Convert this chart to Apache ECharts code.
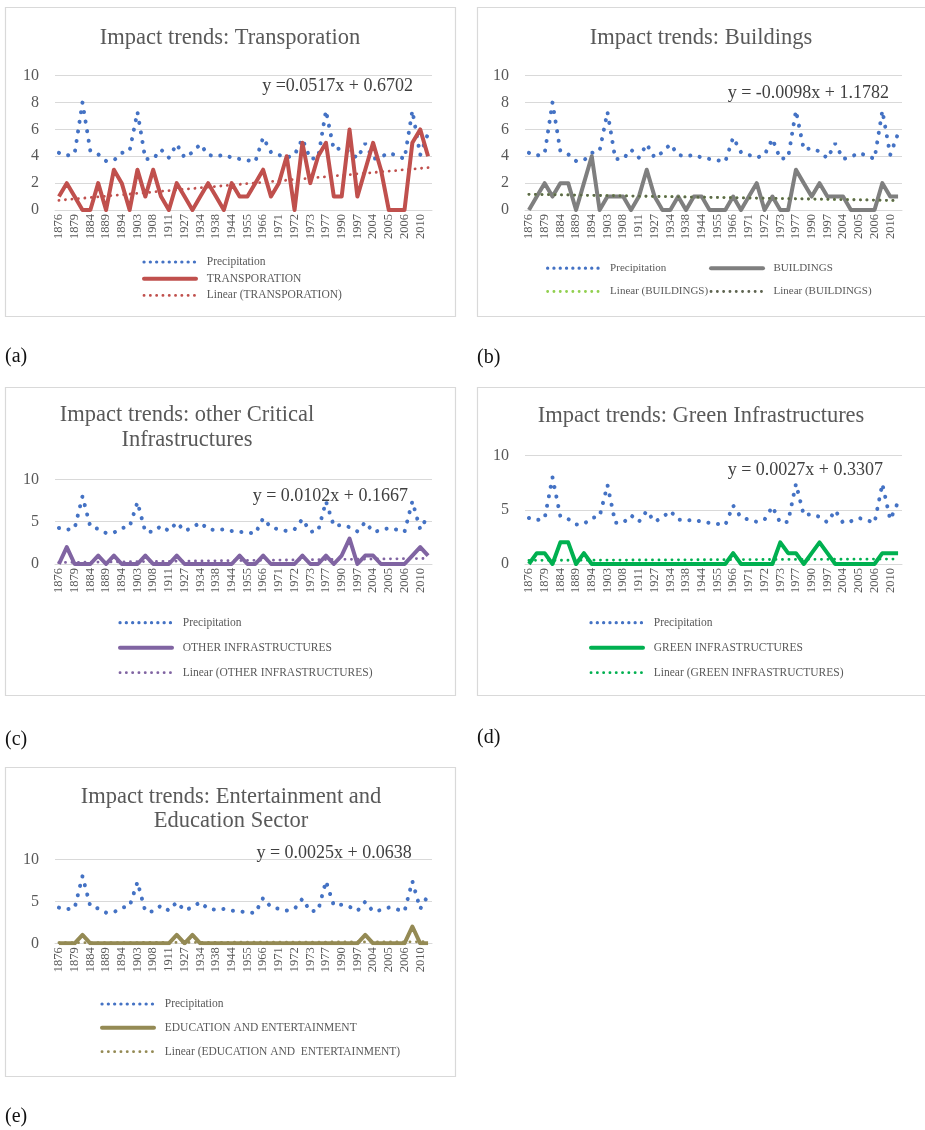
<!DOCTYPE html>
<html>
<head>
<meta charset="utf-8">
<title>Impact trends</title>
<script src="https://cdn.jsdelivr.net/npm/echarts@6/dist/echarts.min.js"></script>
<style>
  html, body { margin: 0; padding: 0; background: #fff; }
  #chart { width: 925px; height: 1130px; }
</style>
</head>
<body>
<div id="chart"></div>
<script>
  // event years on the x axis (every other one is labelled)
  const years = ['1876', '1878', '1879', '1882', '1884', '1887', '1889', '1891', '1894', '1900',
    '1903', '1905', '1908', '1910', '1911', '1915', '1927', '1930', '1934', '1936',
    '1938', '1941', '1944', '1950', '1955', '1960', '1966', '1968', '1971', '1971',
    '1972', '1972', '1973', '1976', '1977', '1983', '1990', '1993', '1997', '2001',
    '2004', '2005', '2005', '2006', '2006', '2008', '2010', '2012']

  const precipitation = [4.25, 4.05, 4.2, 8.0, 4.4, 4.15, 3.65, 3.7, 4.25, 4.4,
    7.3, 3.8, 3.8, 4.5, 3.9, 4.9, 3.9, 4.3, 4.9, 4.1,
    4.0, 4.1, 3.9, 3.8, 3.7, 3.6, 5.4, 4.3, 4.1, 3.9,
    4.1, 5.3, 3.8, 3.9, 7.4, 4.5, 4.6, 4.35, 3.85, 4.95,
    3.8, 3.95, 4.25, 4.05, 3.8, 7.4, 4.1, 5.7]

  const transportation = [1, 2, 1, 0, 0, 2, 0, 3, 2, 0, 3, 1, 3, 1, 0, 2, 1, 0, 1, 2, 1, 0, 2, 1,
    1, 2, 3, 1, 2, 4, 0, 5, 2, 4, 5, 1, 1, 6, 1, 3, 5, 3, 0, 0, 0, 5, 6, 4]
  const buildings = [0, 1, 2, 1, 2, 2, 0, 2, 4, 0, 1, 1, 1, 0, 1, 3, 1, 0, 0, 1, 0, 1, 1, 0,
    0, 0, 1, 0, 1, 2, 0, 1, 0, 0, 3, 2, 1, 2, 1, 1, 1, 0, 0, 0, 0, 2, 1, 1]
  const otherInfra = [0, 2, 0, 0, 0, 1, 0, 1, 0, 0, 0, 1, 0, 0, 0, 1, 0, 0, 0, 0, 0, 0, 0, 1,
    0, 0, 1, 0, 0, 0, 0, 1, 0, 0, 1, 0, 1, 3, 0, 1, 1, 0, 0, 0, 0, 1, 2, 1]
  const greenInfra = [0, 1, 1, 0, 2, 2, 0, 1, 0, 0, 0, 0, 0, 0, 0, 0, 0, 0, 0, 0, 0, 0, 0, 0,
    0, 0, 1, 0, 0, 0, 0, 0, 2, 1, 1, 0, 1, 2, 1, 0, 0, 0, 0, 0, 0, 1, 1, 1]
  const education = [0, 0, 0, 1, 0, 0, 0, 0, 0, 0, 0, 0, 0, 0, 0, 1, 0, 1, 0, 0, 0, 0, 0, 0,
    0, 0, 0, 0, 0, 0, 0, 0, 0, 0, 0, 0, 0, 0, 0, 1, 0, 0, 0, 0, 0, 2, 0, 0]

  // linear trend lines as given by the equations on the chart
  const trendSlope = [0.0517, -0.0098, 0.0102, 0.0027, 0.0025]
  const trendIntercept = [0.6702, 1.1782, 0.1667, 0.3307, 0.0638]
  const equations = ['y =0.0517x + 0.6702', 'y = -0.0098x + 1.1782', 'y = 0.0102x + 0.1667',
    'y = 0.0027x + 0.3307', 'y = 0.0025x + 0.0638']

  const titles = [['Impact trends: Transporation'], ['Impact trends: Buildings'],
    ['Impact trends: other Critical', 'Infrastructures'], ['Impact trends: Green Infrastructures'],
    ['Impact trends: Entertainment and', 'Education Sector']]
  const impactNames = ['TRANSPORATION', 'BUILDINGS', 'OTHER INFRASTRUCTURES', 'GREEN INFRASTRUCTURES',
    'EDUCATION AND ENTERTAINMENT']
  const trendNames = ['Linear (TRANSPORATION)', 'Linear (BUILDINGS) ', 'Linear (OTHER INFRASTRUCTURES)',
    'Linear (GREEN INFRASTRUCTURES)', 'Linear (EDUCATION AND  ENTERTAINMENT)']
  const panelTags = ['(a)', '(b)', '(c)', '(d)', '(e)']
  const yIntervals = [2, 2, 5, 5, 5]

  const impactSeries = [transportation, buildings, otherInfra, greenInfra, education]
  const impactColors = ['#C0504D', '#7F7F7F', '#8064A2', '#00B050', '#948A54']
  const trendColors = ['#C0504D', '#5E6450', '#8064A2', '#00B050', '#948A54']
  const precipColor = '#4472C4'

  // panel geometry (pixels)
  const layout = [
    {box: [5, 7, 450, 309], grid: [55, 75.7, 377, 134.3], titleX: 230, titleY: [38], eqX: 413, eqY: 86.7,
      legend: {left: 142, top: 256, gap: 4.7}, tag: [5, 357]},
    {box: [477, 7, 460, 309], grid: [525, 75.7, 377, 134.3], titleX: 701, titleY: [38], eqX: 889, eqY: 93.3,
      legend: {left: 546, left2: 709, top: 262.7, gap: 12.3}, tag: [477, 358]},
    {box: [5, 387, 450, 308], grid: [55, 479.3, 377, 84.7], titleX: 187, titleY: [415, 440], eqX: 408, eqY: 496.7,
      legend: {left: 118, top: 616.7, gap: 13}, tag: [5, 740]},
    {box: [477, 387, 460, 308], grid: [525, 455.7, 377, 108.3], titleX: 701, titleY: [416], eqX: 883, eqY: 470,
      legend: {left: 589, top: 616.7, gap: 13}, tag: [477, 738]},
    {box: [5, 767, 450, 309], grid: [55, 859.3, 377, 84], titleX: 231, titleY: [797, 821], eqX: 411.7, eqY: 853.3,
      legend: {left: 100, top: 998, gap: 11.85}, tag: [5, 1117]}
  ]

  const FONT = 'Liberation Serif'
  const precipLine = {width: 4, type: [0.1, 9.6], cap: 'round'}
  const trendLine = {width: 2.8, type: [0.1, 6.4], cap: 'round'}

  const grids = [], xAxes = [], yAxes = [], series = [], legends = [], graphics = []

  function legendItem(name, color, kind) {
    let ls
    if (kind === 'precip') ls = {width: 3.2, type: [0.1, 6.2], cap: 'round', color: color}
    else if (kind === 'trend') ls = {width: 2.8, type: [0.1, 6.2], cap: 'round', color: color}
    else ls = {width: 4, type: 'solid', cap: 'round', color: color}
    // opacity 0 hides the round marker that line legends draw in the middle
    return {name: name, lineStyle: ls, itemStyle: {color: color, opacity: 0, borderWidth: 0}}
  }

  function makeLegend(left, top, gap, size, items) {
    return {
      orient: 'vertical', left: left, top: top, itemGap: gap,
      itemWidth: 52, itemHeight: 12, padding: 0, selectedMode: false,
      textStyle: {fontFamily: FONT, fontSize: size, color: '#595959'},
      formatter: n => '  ' + n.trim(),
      data: items
    }
  }

  layout.forEach((p, k) => {
    grids.push({left: p.grid[0], top: p.grid[1], width: p.grid[2], height: p.grid[3], outerBoundsMode: 'none'})
    xAxes.push({
      type: 'category', gridIndex: k, data: years, boundaryGap: true,
      axisLine: {lineStyle: {color: '#D9D9D9', width: 1}},
      axisTick: {show: false},
      axisLabel: {interval: 1, rotate: 90, margin: 4, fontFamily: FONT, fontSize: 12.5, color: '#595959'}
    })
    yAxes.push({
      type: 'value', gridIndex: k, min: 0, max: 10, interval: yIntervals[k],
      axisLine: {show: false}, axisTick: {show: false},
      splitLine: {lineStyle: {color: '#D9D9D9', width: 1}},
      axisLabel: {margin: 16, fontFamily: FONT, fontSize: 16, color: '#595959'}
    })

    series.push({
      name: 'Precipitation', type: 'line', xAxisIndex: k, yAxisIndex: k, data: precipitation,
      symbol: 'none', lineStyle: Object.assign({color: precipColor}, precipLine),
      itemStyle: {color: precipColor}, z: 2
    })
    series.push({
      name: impactNames[k], type: 'line', xAxisIndex: k, yAxisIndex: k, data: impactSeries[k],
      symbol: 'none', lineStyle: {color: impactColors[k], width: 4, join: 'round'},
      itemStyle: {color: impactColors[k]}, z: 3
    })
    const n = years.length
    const trendData = [[0, trendIntercept[k] + trendSlope[k] * 1], [n - 1, trendIntercept[k] + trendSlope[k] * n]]
    if (k === 1) {
      // the chart lists the building trend twice, a green one sits under the grey one
      series.push({
        name: 'Linear (BUILDINGS)', type: 'line', xAxisIndex: k, yAxisIndex: k, data: trendData,
        symbol: 'none', lineStyle: Object.assign({color: '#92D050'}, trendLine),
        itemStyle: {color: '#92D050'}, z: 4
      })
    }
    series.push({
      name: trendNames[k], type: 'line', xAxisIndex: k, yAxisIndex: k, data: trendData,
      symbol: 'none', lineStyle: Object.assign({color: trendColors[k]}, trendLine),
      itemStyle: {color: trendColors[k]}, z: 5
    })

    const lg = p.legend
    if (k === 1) {
      legends.push(makeLegend(lg.left, lg.top, lg.gap, 11, [
        legendItem('Precipitation', precipColor, 'precip'),
        legendItem('Linear (BUILDINGS)', '#92D050', 'trend')]))
      legends.push(makeLegend(lg.left2, lg.top, lg.gap, 11, [
        legendItem(impactNames[k], impactColors[k], 'solid'),
        legendItem(trendNames[k], trendColors[k], 'trend')]))
    } else {
      legends.push(makeLegend(lg.left, lg.top, lg.gap, 11.5, [
        legendItem('Precipitation', precipColor, 'precip'),
        legendItem(impactNames[k], impactColors[k], 'solid'),
        legendItem(trendNames[k], trendColors[k], 'trend')]))
    }

    // panel frame, title, equation and tag
    graphics.push({
      type: 'rect', shape: {x: p.box[0] + 0.5, y: p.box[1] + 0.5, width: p.box[2], height: p.box[3]},
      style: {fill: 'none', stroke: '#D9D9D9', lineWidth: 1.2}, z: 0
    })
    titles[k].forEach((t, i) => {
      graphics.push({
        type: 'text', x: p.titleX, y: p.titleY[i],
        style: {text: t, fontFamily: FONT, fontSize: 22.5, fill: '#595959', align: 'center', verticalAlign: 'middle'}
      })
    })
    graphics.push({
      type: 'text', x: p.eqX, y: p.eqY, z: 10,
      style: {text: equations[k], fontFamily: FONT, fontSize: 18, fill: '#404040', align: 'right', verticalAlign: 'middle'}
    })
    graphics.push({
      type: 'text', x: p.tag[0], y: p.tag[1],
      style: {text: panelTags[k], fontFamily: FONT, fontSize: 20, fill: '#111', align: 'left', verticalAlign: 'middle'}
    })
  })

  const myChart = echarts.init(document.getElementById('chart'), null, {renderer: 'canvas'})
  myChart.setOption({
    backgroundColor: '#fff',
    animation: false,
    grid: grids,
    xAxis: xAxes,
    yAxis: yAxes,
    legend: legends,
    series: series,
    graphic: graphics
  })
</script>
</body>
</html>
